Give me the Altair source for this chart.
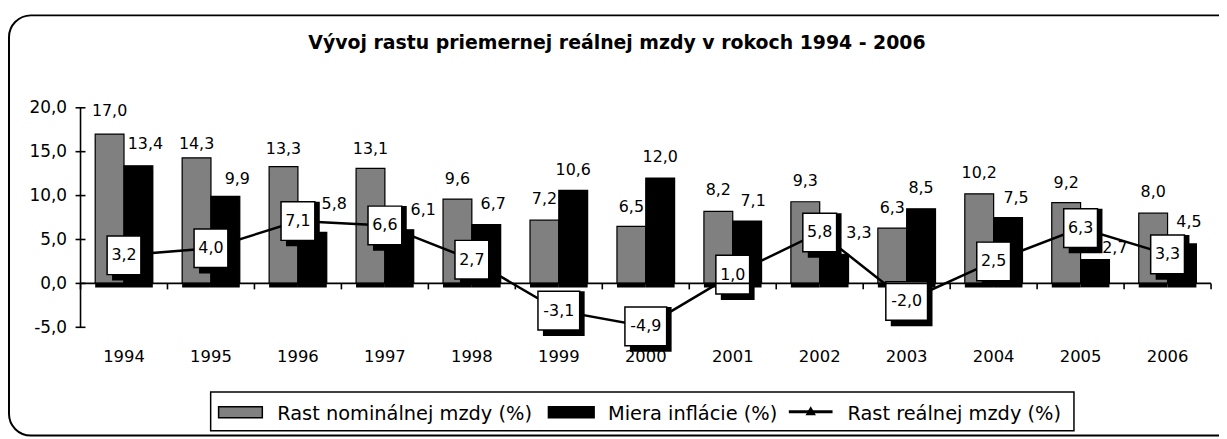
import altair as alt
import pandas as pd

# ---------------- data ----------------
years = ["1994", "1995", "1996", "1997", "1998", "1999", "2000",
         "2001", "2002", "2003", "2004", "2005", "2006"]
nominal = [17.0, 14.3, 13.3, 13.1, 9.6, 7.2, 6.5, 8.2, 9.3, 6.3, 10.2, 9.2, 8.0]
inflation = [13.4, 9.9, 5.8, 6.1, 6.7, 10.6, 12.0, 7.1, 3.3, 8.5, 7.5, 2.7, 4.5]
real = [3.2, 4.0, 7.1, 6.6, 2.7, -3.1, -4.9, 1.0, 5.8, -2.0, 2.5, 6.3, 3.3]
series_names = ["Rast nominálnej mzdy (%)", "Miera inflácie (%)", "Rast reálnej mzdy (%)"]
title_text = "Vývoj rastu priemernej reálnej mzdy v rokoch 1994 - 2006"
y_ticks = [-5, 0, 5, 10, 15, 20]

# presentation: manual nudges of value labels (pixels), as in the original
nominal_label_rise = [18, 9, 13, 14, 15, 16, 14, 16, 16, 15, 16, 15, 16]
inflation_label_dx = [7, 12, 22, 24, 7, 0, 0, 6, 25, 0, 8, 20, 7]
inflation_label_rise = [17, 13, 24, 15, 16, 15, 16, 15, 17, 16, 15, 7, 17]

bars_df = pd.DataFrame({
    "year": years * 2,
    "series": [series_names[0]] * len(years) + [series_names[1]] * len(years),
    "value": nominal + inflation,
    "ldx": [0] * len(years) + inflation_label_dx,
    "rise": nominal_label_rise + inflation_label_rise,
})
real_df = pd.DataFrame({"year": years, "real": real})
yt_df = pd.DataFrame({"t": y_ticks})
yr_df = pd.DataFrame({"year": years})
one = pd.DataFrame({"k": [0]})

W, H = 1138, 221
STEP = W / len(years)
UNIT = 25 / H          # data units per pixel on the y scale
FONT = "DejaVu Sans"
SK = "#000000"


# decimal comma, ASCII minus
def sk_num(field):
    return "replace(replace(format(datum.%s, '.1f'), '.', ','), '\u2212', '-')" % field


x_scale = alt.Scale(domain=years, paddingInner=0.337, paddingOuter=0.1685)
y_scale = alt.Scale(domain=[-5, 20], nice=False, zero=False)

x_axis = alt.Axis(title=None, offset=-44.2, domain=False, ticks=False,
                  labelFont=FONT, labelFontSize=16.5, labelColor=SK,
                  labelPadding=66, labelAngle=0, grid=False)
y_axis = alt.Axis(title=None, values=y_ticks, domain=False, ticks=False,
                  labelExpr=sk_num("value"),
                  labelFont=FONT, labelFontSize=17, labelColor=SK,
                  labelPadding=14, grid=False)

X = alt.X("year:N", scale=x_scale, sort=years, axis=x_axis)
XO = alt.XOffset("series:N", scale=alt.Scale(domain=series_names[:2]))


def Y(field):
    return alt.Y(field, scale=y_scale, axis=y_axis)


base_bars = alt.Chart(bars_df).transform_calculate(lab=sk_num("value"))
shadows = base_bars.mark_bar(color=SK, xOffset=4, yOffset=4).encode(
    x=X, xOffset=XO, y=Y("value:Q"))
bars = base_bars.mark_bar(stroke=SK, strokeWidth=1.2).encode(
    x=X, xOffset=XO, y=Y("value:Q"),
    color=alt.Color("series:N", scale=alt.Scale(domain=series_names[:2],
                                                range=["#808080", "#000000"]),
                    legend=None),
)
bar_labels = base_bars.mark_text(font=FONT, fontSize=16, color=SK,
                                 baseline="alphabetic",
                                 dx={"expr": "datum.ldx"},
                                 dy={"expr": "-datum.rise"}).encode(
    x=X, xOffset=XO, y=Y("value:Q"), text="lab:N")

# axis lines and ticks drawn as thin rectangles / rules
y_dom = alt.Chart(one).mark_rule(color=SK, strokeWidth=1.6).encode(
    x=alt.value(0), y=alt.value(0), y2=alt.value(H))
y_tk = alt.Chart(yt_df).transform_calculate(
    t1="datum.t + %f" % (0.8 * UNIT), t2="datum.t - %f" % (0.8 * UNIT)
).mark_rect(fill=SK).encode(
    x=alt.value(-5), x2=alt.value(5), y=Y("t1:Q"), y2="t2:Q")
x_dom = alt.Chart(one).transform_calculate(
    z1="%f" % (0.8 * UNIT), z2="%f" % (-0.8 * UNIT)
).mark_rect(fill=SK).encode(
    x=alt.value(0), x2=alt.value(W), y=Y("z1:Q"), y2="z2:Q")
x_tk = alt.Chart(yr_df).transform_calculate(
    z1="0", z2="%f" % (-6 * UNIT)
).mark_bar(fill=SK, xOffset=-STEP / 2).encode(
    x=X, y=Y("z1:Q"), y2="z2:Q", size=alt.value(1.6))
x_tk_end = alt.Chart(one).transform_calculate(
    z1="0", z2="%f" % (-6 * UNIT)
).mark_rect(fill=SK).encode(
    x=alt.value(W - 0.8), x2=alt.value(W + 0.8), y=Y("z1:Q"), y2="z2:Q")

base_real = alt.Chart(real_df).transform_calculate(
    lab=sk_num("real"), lo="datum.real - 2.2", hi="datum.real + 2.2",
    bw="datum.real < 0 ? 42 : 34")
line = base_real.mark_line(color=SK, strokeWidth=2.5).encode(
    x=X, y=Y("real:Q"))
box_shadow = base_real.mark_bar(color=SK, xOffset=5, yOffset=6).encode(
    x=X, y=Y("lo:Q"), y2="hi:Q",
    size=alt.Size("bw:Q", scale=None, legend=None))
boxes = base_real.mark_bar(fill="white", stroke=SK, strokeWidth=1.5).encode(
    x=X, y=Y("lo:Q"), y2="hi:Q",
    size=alt.Size("bw:Q", scale=None, legend=None))
box_text = base_real.mark_text(font=FONT, fontSize=16, color=SK,
                               baseline="middle").encode(
    x=X, y=Y("real:Q"), text="lab:N")

# title
title = alt.Chart(one).mark_text(font=FONT, fontSize=19, fontWeight="bold",
                                 color=SK, baseline="alphabetic",
                                 align="center").encode(
    x=alt.value(540), y=alt.value(-59), text=alt.value(title_text))

# legend
leg_box = alt.Chart(one).mark_rect(fill="white", stroke=SK, strokeWidth=1.5).encode(
    x=alt.value(131), x2=alt.value(1000), y=alt.value(286), y2=alt.value(325))
sw1 = alt.Chart(one).mark_rect(fill="#808080", stroke=SK, strokeWidth=1.5).encode(
    x=alt.value(139), x2=alt.value(183), y=alt.value(301), y2=alt.value(312))
sw2 = alt.Chart(one).mark_rect(fill=SK, stroke=SK, strokeWidth=1.5).encode(
    x=alt.value(471), x2=alt.value(517), y=alt.value(301), y2=alt.value(312))
sw3 = alt.Chart(one).mark_rule(color=SK, strokeWidth=3).encode(
    x=alt.value(713), x2=alt.value(757), y=alt.value(306))
tri = alt.Chart(one).mark_point(shape="triangle-up", filled=True, color=SK,
                                size=110, opacity=1).encode(
    x=alt.value(735), y=alt.value(305))


def leg_text(xpos, txt):
    return alt.Chart(one).mark_text(font=FONT, fontSize=19.5, color=SK,
                                    align="left", baseline="alphabetic").encode(
        x=alt.value(xpos), y=alt.value(314), text=alt.value(txt))


# outer rounded frame
frame = alt.Chart(one).mark_rect(filled=False, stroke=SK, strokeWidth=2,
                                 cornerRadius=22).encode(
    x=alt.value(-72), x2=alt.value(1170), y=alt.value(-93), y2=alt.value(330))

chart = alt.layer(
    shadows, bars, bar_labels,
    line, box_shadow, boxes, box_text,
    title, leg_box, sw1, sw2, sw3, tri,
    leg_text(198, series_names[0]), leg_text(531, series_names[1]),
    leg_text(772, series_names[2]), frame,
    y_dom, y_tk, x_dom, x_tk, x_tk_end,
).properties(
    width=W, height=H,
    autosize=alt.AutoSizeParams(type="none"),
    padding={"left": 73, "top": 99, "right": 8, "bottom": 111},
).configure_view(stroke="transparent")

chart.save("out.html", embed_options={"renderer": "svg", "actions": False})
